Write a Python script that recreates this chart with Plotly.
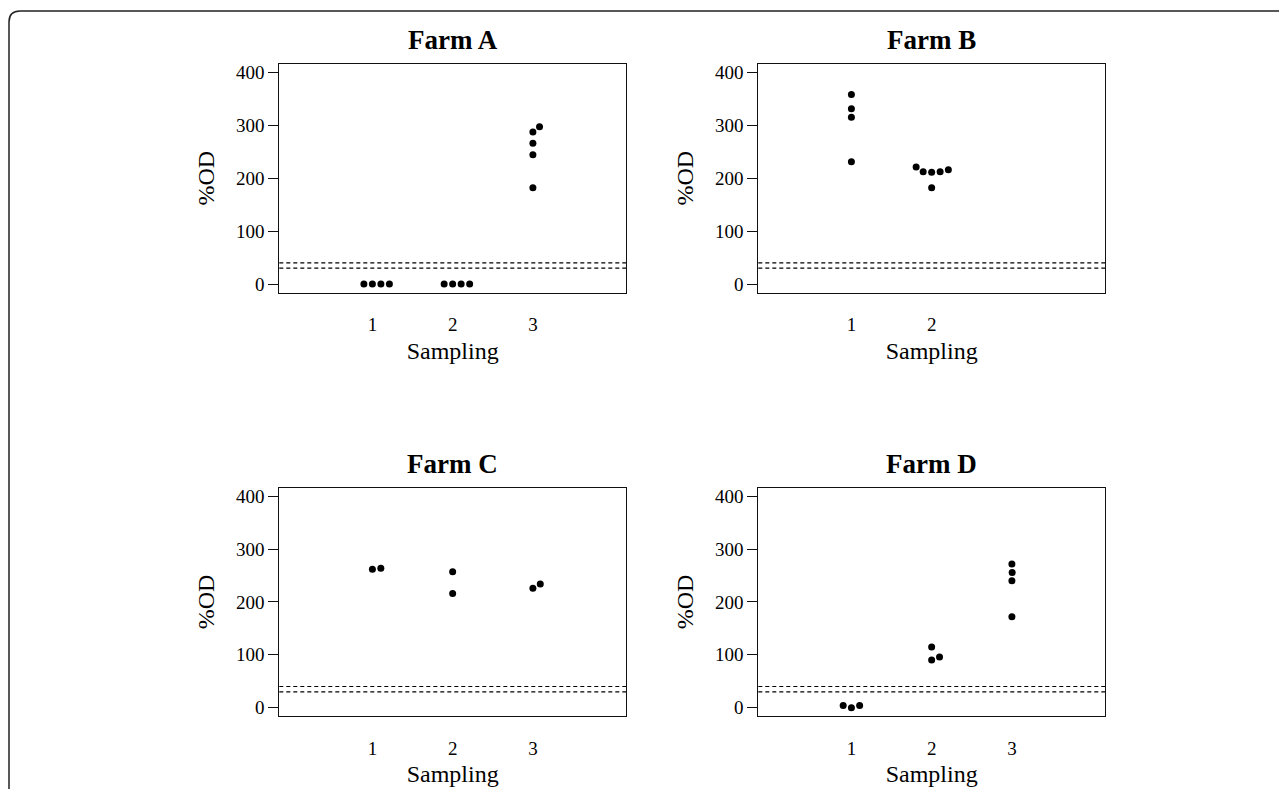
import math
import plotly.graph_objects as go

# ---------------- data ----------------
farms = ["Farm A", "Farm B", "Farm C", "Farm D"]

farmA_s1 = [0, 0, 0, 0]
farmA_s2 = [0, 0, 0, 0]
farmA_s3 = [297, 287, 266, 244, 182]

farmB_s1 = [358, 331, 315, 231]
farmB_s2 = [221, 212, 211, 212, 216, 182]

farmC_s1 = [262, 264]
farmC_s2 = [257, 216]
farmC_s3 = [226, 234]

farmD_s1 = [4, 0, 4]
farmD_s2 = [115, 90, 96]
farmD_s3 = [272, 256, 240, 172]

samplings = {
    "Farm A": [farmA_s1, farmA_s2, farmA_s3],
    "Farm B": [farmB_s1, farmB_s2],
    "Farm C": [farmC_s1, farmC_s2, farmC_s3],
    "Farm D": [farmD_s1, farmD_s2, farmD_s3],
}

y_ticks = [0, 100, 200, 300, 400]
cutoffs = [30, 40]

# ---------------- layout geometry (pixels) ----------------
W, H = 1287, 789
OFF = 8  # page body margin offset
FONT = "Liberation Serif"
panels = {
    "Farm A": (279.3, 626.0, 62.0, 292.0),
    "Farm B": (758.3, 1105.0, 62.0, 292.0),
    "Farm C": (279.3, 626.0, 488.3, 717.7),
    "Farm D": (758.3, 1105.0, 488.3, 717.7),
}
XR = [-0.16, 4.16]
YR = [-16, 416]
DOT = 8.5  # swarm spacing in px


def px(xp):
    return (xp - OFF) / W


def py(yp):
    return 1 - (yp - OFF) / H


def swarm(values, ypx, d):
    n = len(values)
    order = sorted(range(n), key=lambda i: values[i])
    placed = []
    offs = [0.0] * n
    for i in order:
        y = values[i] * ypx
        cands = [0.0]
        for xo, yo in placed:
            dy = abs(y - yo)
            if dy < d:
                dx = math.sqrt(d * d - dy * dy)
                cands += [xo + dx, xo - dx]
        valid = [c for c in cands
                 if all((c - xo) ** 2 + (y - yo) ** 2 >= d * d - 1e-6 for xo, yo in placed)]
        best = min(valid, key=lambda c: (round(abs(c), 6), -c))
        placed.append((best, y))
        offs[i] = best
    return offs


fig = go.Figure()
annotations = []
shapes = []

for k, farm in enumerate(farms):
    x0, x1, y0, y1 = panels[farm]
    xpx = (x1 - x0) / (XR[1] - XR[0])
    ypx = (y1 - y0) / (YR[1] - YR[0])
    sfx = "" if k == 0 else str(k + 1)
    groups = samplings[farm]
    xs, ys = [], []
    for g, vals in enumerate(groups):
        offs = swarm(vals, ypx, DOT)
        for v, o in zip(vals, offs):
            xs.append(g + 1 + o / xpx)
            ys.append(v)
    fig.add_trace(go.Scatter(
        x=xs, y=ys, mode="markers",
        marker=dict(size=7, color="black"),
        xaxis="x" + sfx, yaxis="y" + sfx, showlegend=False, hoverinfo="x+y",
    ))
    nt = len(groups)
    fig.update_layout(**{
        "xaxis" + sfx: dict(
            domain=[px(x0), px(x1)], range=XR, anchor="y" + sfx,
            tickvals=list(range(1, nt + 1)), ticktext=[str(i) for i in range(1, nt + 1)],
            showgrid=False, zeroline=False, showline=True, mirror=True,
            linecolor="#111", linewidth=1.2,
            ticks="outside", ticklen=15, tickcolor="rgba(0,0,0,0)",
            tickfont=dict(family=FONT, size=19, color="black"),
            title=dict(text="Sampling", font=dict(family=FONT, size=24, color="black"), standoff=7),
        ),
        "yaxis" + sfx: dict(
            domain=[py(y1), py(y0)], range=YR, anchor="x" + sfx,
            tickvals=y_ticks,
            showgrid=False, zeroline=False, showline=True, mirror=True,
            linecolor="#111", linewidth=1.2,
            ticks="outside", ticklen=10, tickwidth=1.2, tickcolor="#111",
            tickfont=dict(family=FONT, size=19, color="black"),
            title=dict(text="%OD", font=dict(family=FONT, size=24, color="black"), standoff=14),
        ),
    })
    for c in cutoffs:
        shapes.append(dict(type="line", xref="x" + sfx + " domain", yref="y" + sfx,
                           x0=0, x1=1, y0=c, y1=c,
                           line=dict(color="black", width=1.2, dash="4px,3px")))
    annotations.append(dict(
        text="<b>" + farm + "</b>", x=(px(x0) + px(x1)) / 2, y=py(y0 - 24),
        xref="paper", yref="paper", xanchor="center", yanchor="middle",
        showarrow=False, font=dict(family=FONT, size=27, color="black"),
    ))

# outer rounded frame (runs off right and bottom edges)
r = 11
fx, fy = 9, 9
path = (f"M {px(fx)},{py(H + 20)} L {px(fx)},{py(fy + r)} "
        f"Q {px(fx)},{py(fy)} {px(fx + r)},{py(fy)} L {px(W + 20)},{py(fy)}")
shapes.append(dict(type="path", xref="paper", yref="paper", path=path,
                   line=dict(color="#222", width=1.5)))

fig.update_layout(
    width=W, height=H, autosize=False,
    margin=dict(l=0, r=0, t=0, b=0),
    paper_bgcolor="white", plot_bgcolor="white",
    annotations=annotations, shapes=shapes,
    font=dict(family=FONT, color="black"),
)

fig.write_html("out.html")
